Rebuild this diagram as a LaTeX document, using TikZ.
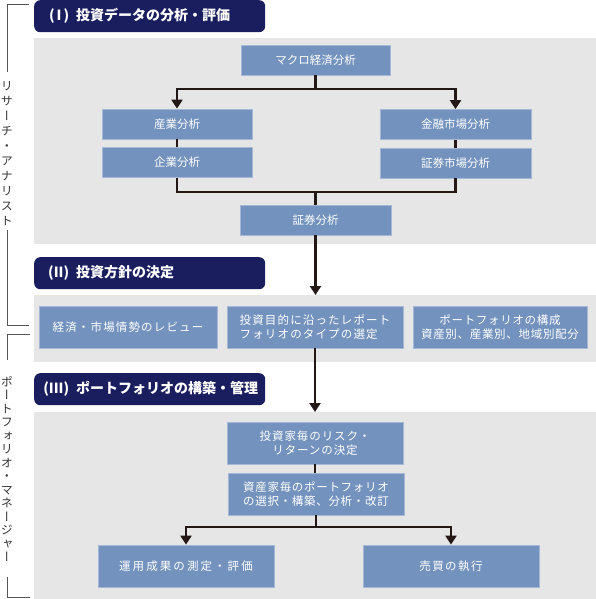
\documentclass[tikz,border=0pt]{standalone}
\usepackage{fontspec}
\setmainfont{Noto Sans CJK JP}
\newfontfamily\vfont[RawFeature=+vert]{Noto Sans CJK JP}
\usetikzlibrary{arrows.meta}
\definecolor{navy}{HTML}{1A1E5E}
\definecolor{boxblue}{HTML}{7393BE}
\definecolor{boxedge}{HTML}{A6B8D8}
\definecolor{panelgray}{HTML}{E6E6E6}
\definecolor{connc}{HTML}{231815}
\definecolor{brk}{HTML}{555555}
\definecolor{vtextc}{HTML}{333333}
\newcommand{\hnum}[1]{\makebox[27pt][r]{#1\hspace{7pt}}}
\begin{document}
\begin{tikzpicture}[x=1pt,y=-1pt,
  panel/.style={fill=panelgray,draw=none,anchor=north west,inner sep=0pt},
  header/.style={fill=navy,rounded corners=6pt,text=white,anchor=north west,
    inner xsep=15pt,inner ysep=0pt,text width=201pt,align=left,minimum height=32pt,
    font=\bfseries\fontsize{14}{16}\selectfont},
  bbox/.style={fill=boxblue,draw=boxedge,line width=0.8pt,text=white,inner sep=0pt,
    font=\fontsize{11.5}{14.5}\selectfont},
  bboxs/.style={bbox,font=\fontsize{11.5}{14.5}\selectfont\addfontfeature{LetterSpace=#1}},
  cl/.style={draw=connc,line width=2.8pt},
  tip/.style={cl,-{Triangle[width=11pt,length=9pt]}},
  bracket/.style={draw=brk,line width=1pt},
  vtext/.style={text=vtextc,inner sep=0pt,align=center}
]
\useasboundingbox (0,0) rectangle (596,599);

% panels
\node[panel,minimum width=562pt,minimum height=206pt] (p1) at (34,38) {};
\node[panel,minimum width=562pt,minimum height=67pt] (p2) at (34,295) {};
\node[panel,minimum width=562pt,minimum height=187pt] (p3) at (34,412) {};

% headers
\node[header] (h1) at (34,0) {\mbox{\hnum{(\hspace{2pt}I\hspace{2pt})}投資データの分析・評価}};
\node[header] (h2) at (34,257) {\mbox{\hnum{(II)}投資方針の決定}};
\node[header] (h3) at (34,373) {\mbox{\hnum{(III)}ポートフォリオの構築・管理}};

% panel 1 boxes
\node[bbox,minimum width=149pt,minimum height=30pt] (macro) at (315.5,60) {マクロ経済分析};
\node[bbox,minimum width=150pt,minimum height=30pt] (sangyo) at (177,124) {産業分析};
\node[bbox,minimum width=150pt,minimum height=30pt] (kigyo) at (177,162.5) {企業分析};
\node[bbox,minimum width=151pt,minimum height=30pt] (kinyu) at (455.5,124.5) {金融市場分析};
\node[bbox,minimum width=151pt,minimum height=30pt] (shijo) at (455.5,163) {証券市場分析};
\node[bbox,minimum width=151pt,minimum height=30pt] (shoken) at (315.5,220) {証券分析};

% panel 2 boxes
\node[bboxs=10,minimum width=178pt,minimum height=42pt] (review) at (128,327) {経済・市場情勢のレビュー};
\node[bboxs=10,minimum width=176pt,minimum height=42pt,align=left] (mokuteki) at (315,327) {投資目的に沿ったレポート\\フォリオのタイプの選定};
\node[bboxs=6,minimum width=174pt,minimum height=42pt,align=center] (kosei) at (500,327) {ポートフォリオの構成\\資産別、産業別、地域別配分};

% panel 3 boxes
\node[bboxs=8,minimum width=176pt,minimum height=42pt,align=center] (risk) at (315,443) {投資家毎のリスク・\\リターンの決定};
\node[bboxs=6,minimum width=176pt,minimum height=42pt,align=left] (sentaku) at (316,494) {資産家毎のポートフォリオ\\の選択・構築、分析・改訂};
\node[bboxs=18,minimum width=176pt,minimum height=42pt] (unyo) at (186,566) {運用成果の測定・評価};
\node[bboxs=12,minimum width=176pt,minimum height=42pt] (baibai) at (451,566) {売買の執行};

% helper levels
\coordinate (lv1) at (0,89);
\coordinate (lv2) at (0,192);
\coordinate (lv3) at (0,527);
\coordinate (s1) at (macro.south |- lv1);
\coordinate (j1) at (shoken.north |- lv2);
\coordinate (s3) at (sentaku.south |- lv3);

% connectors panel 1
\draw[cl] (macro.south) -- (s1);
\draw[tip] (s1) -| (sangyo.north);
\draw[tip] (s1) -| (kinyu.north);
\draw[cl] (sangyo.south) -- (kigyo.north);
\draw[cl] (kinyu.south) -- (shijo.north);
\draw[cl] (kigyo.south) |- (j1);
\draw[cl] (shijo.south) |- (j1);
\draw[cl] (j1) -- (shoken.north);
\draw[tip] (shoken.south) -- (shoken.south |- p2.north);

% panel 2 to 3
\draw[tip] (mokuteki.south) -- (mokuteki.south |- p3.north);

% panel 3
\draw[cl] (risk.south) -- (risk.south |- sentaku.north);
\draw[cl] (sentaku.south) -- (s3);
\draw[tip] (s3) -| (unyo.north);
\draw[tip] (s3) -| (baibai.north);

% left brackets
\coordinate (b1a) at (29,5);
\coordinate (b1b) at (7,5);
\coordinate (b1c) at (7,72);
\coordinate (b1d) at (7,230);
\coordinate (b1e) at (7,325);
\coordinate (b1f) at (29,325);
\draw[bracket] (b1a) -- (b1b) -- (b1c);
\draw[bracket] (b1d) -- (b1e) -- (b1f);
\node[vtext,font=\vfont\fontsize{12}{15}\selectfont] (ra) at (7,153.5)
  {リ\\サ\\ー\\チ\\・\\ア\\ナ\\リ\\ス\\ト};

\coordinate (b2a) at (30,334);
\coordinate (b2b) at (7,334);
\coordinate (b2c) at (7,360);
\coordinate (b2d) at (7,577);
\coordinate (b2e) at (7,597);
\coordinate (b2f) at (30,597);
\draw[bracket] (b2a) -- (b2b) -- (b2c);
\draw[bracket] (b2d) -- (b2e) -- (b2f);
\node[vtext,font=\vfont\fontsize{12}{13.5}\selectfont] (pm) at (7,469)
  {ポ\\ー\\ト\\フ\\ォ\\リ\\オ\\・\\マ\\ネ\\ー\\ジ\\ャ\\ー};
\end{tikzpicture}
\end{document}
